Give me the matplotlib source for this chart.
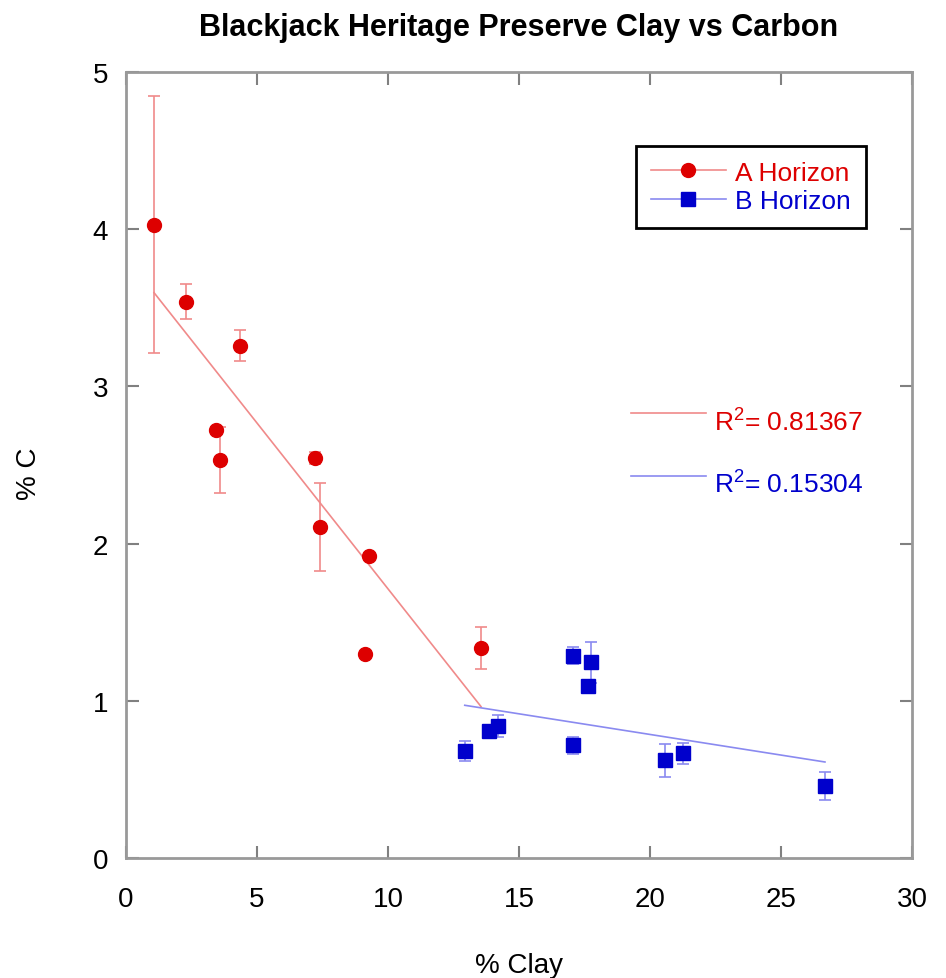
import numpy as np
import matplotlib
matplotlib.use('Agg')
import matplotlib.pyplot as plt
from matplotlib.lines import Line2D

plt.rcParams['font.family'] = ['Liberation Sans', 'DejaVu Sans']

# A horizon: % clay, % C, error
a_clay = [1.07, 2.29, 4.35, 3.42, 3.60, 7.21, 7.40, 9.27, 9.13, 13.55]
a_carbon = [4.03, 3.54, 3.26, 2.72, 2.53, 2.545, 2.105, 1.923, 1.30, 1.336]
a_err = [0.82, 0.11, 0.10, 0.0, 0.21, 0.04, 0.28, 0.0, 0.0, 0.135]

# B horizon
b_clay = [12.93, 13.85, 14.20, 17.05, 17.75, 17.64, 17.05, 20.58, 21.27, 26.68]
b_carbon = [0.682, 0.805, 0.837, 1.286, 1.244, 1.094, 0.716, 0.623, 0.665, 0.458]
b_err = [0.063, 0.0, 0.07, 0.053, 0.13, 0.0, 0.055, 0.105, 0.065, 0.09]

a_r2 = '0.81367'
b_r2 = '0.15304'

red = '#dd0000'
blue = '#0000cc'
red_lt = '#f08a8a'
blue_lt = '#8a8af0'

fig = plt.figure(figsize=(9.46, 9.79), dpi=100)
ax = fig.add_axes([0.1332, 0.1226, 0.8308, 0.8028])

# error bars
ax.errorbar(a_clay, a_carbon, yerr=a_err, fmt='none', ecolor=red_lt,
            elinewidth=1.2, capsize=4, capthick=1.2, zorder=2)
ax.errorbar(b_clay, b_carbon, yerr=b_err, fmt='none', ecolor=blue_lt,
            elinewidth=1.2, capsize=4, capthick=1.2, zorder=2)

# regression lines
for xs, ys, c in [(a_clay, a_carbon, red_lt), (b_clay, b_carbon, blue_lt)]:
    xs = np.array(xs)
    m, b = np.polyfit(xs, np.array(ys), 1)
    xx = np.array([xs.min(), xs.max()])
    ax.plot(xx, m * xx + b, color=c, lw=1.2, zorder=3)

ax.plot(a_clay, a_carbon, 'o', color=red, ms=10, mec=red, zorder=4)
ax.plot(b_clay, b_carbon, 's', color=blue, ms=9.5, mec=blue, zorder=4)

ax.set_xlim(0, 30)
ax.set_ylim(0, 5)
ax.set_xticks(np.arange(0, 31, 5))
ax.set_yticks(np.arange(0, 6, 1))
ax.tick_params(direction='in', length=9, width=1.5, color='#808080',
               labelsize=20, top=True, right=True)
ax.tick_params(axis='x', pad=20)
ax.tick_params(axis='y', pad=13)
for s in ax.spines.values():
    s.set_color('#999999')
    s.set_linewidth(2)

ax.set_title('Blackjack Heritage Preserve Clay vs Carbon', fontsize=22,
             fontweight='bold', pad=27)
fig.text(0.5486, 0.013, '% Clay', fontsize=20, ha='center', va='center')
fig.text(0.031, 0.516, '% C', fontsize=20, ha='center', va='center',
         rotation=90)

# legend
handles = [Line2D([], [], color=red_lt, lw=1.2, marker='o', ms=10,
                  mfc=red, mec=red),
           Line2D([], [], color=blue_lt, lw=1.2, marker='s', ms=9.5,
                  mfc=blue, mec=blue)]
leg = ax.legend(handles, ['A Horizon', 'B Horizon'], loc='upper left',
                bbox_to_anchor=(0.649, 0.906), fontsize=19,
                labelcolor=[red, blue], fancybox=False, framealpha=1,
                edgecolor='black', handlelength=2.85, handletextpad=0.34,
                borderpad=0.56, labelspacing=0.17, borderaxespad=0)
leg.get_frame().set_linewidth(2)

# R^2 annotations
for yy, c, lc, val in [(0.566, red, red_lt, a_r2), (0.4864, blue, blue_lt, b_r2)]:
    ax.plot([0.643, 0.7376], [yy, yy], color=lc, lw=1.2,
            transform=ax.transAxes)
    ax.text(0.748, yy - 0.011, '$\\mathregular{R^2}$= ' + val, color=c,
            fontsize=19, va='center', ha='left', transform=ax.transAxes)

fig.savefig('out.png', dpi=100)
